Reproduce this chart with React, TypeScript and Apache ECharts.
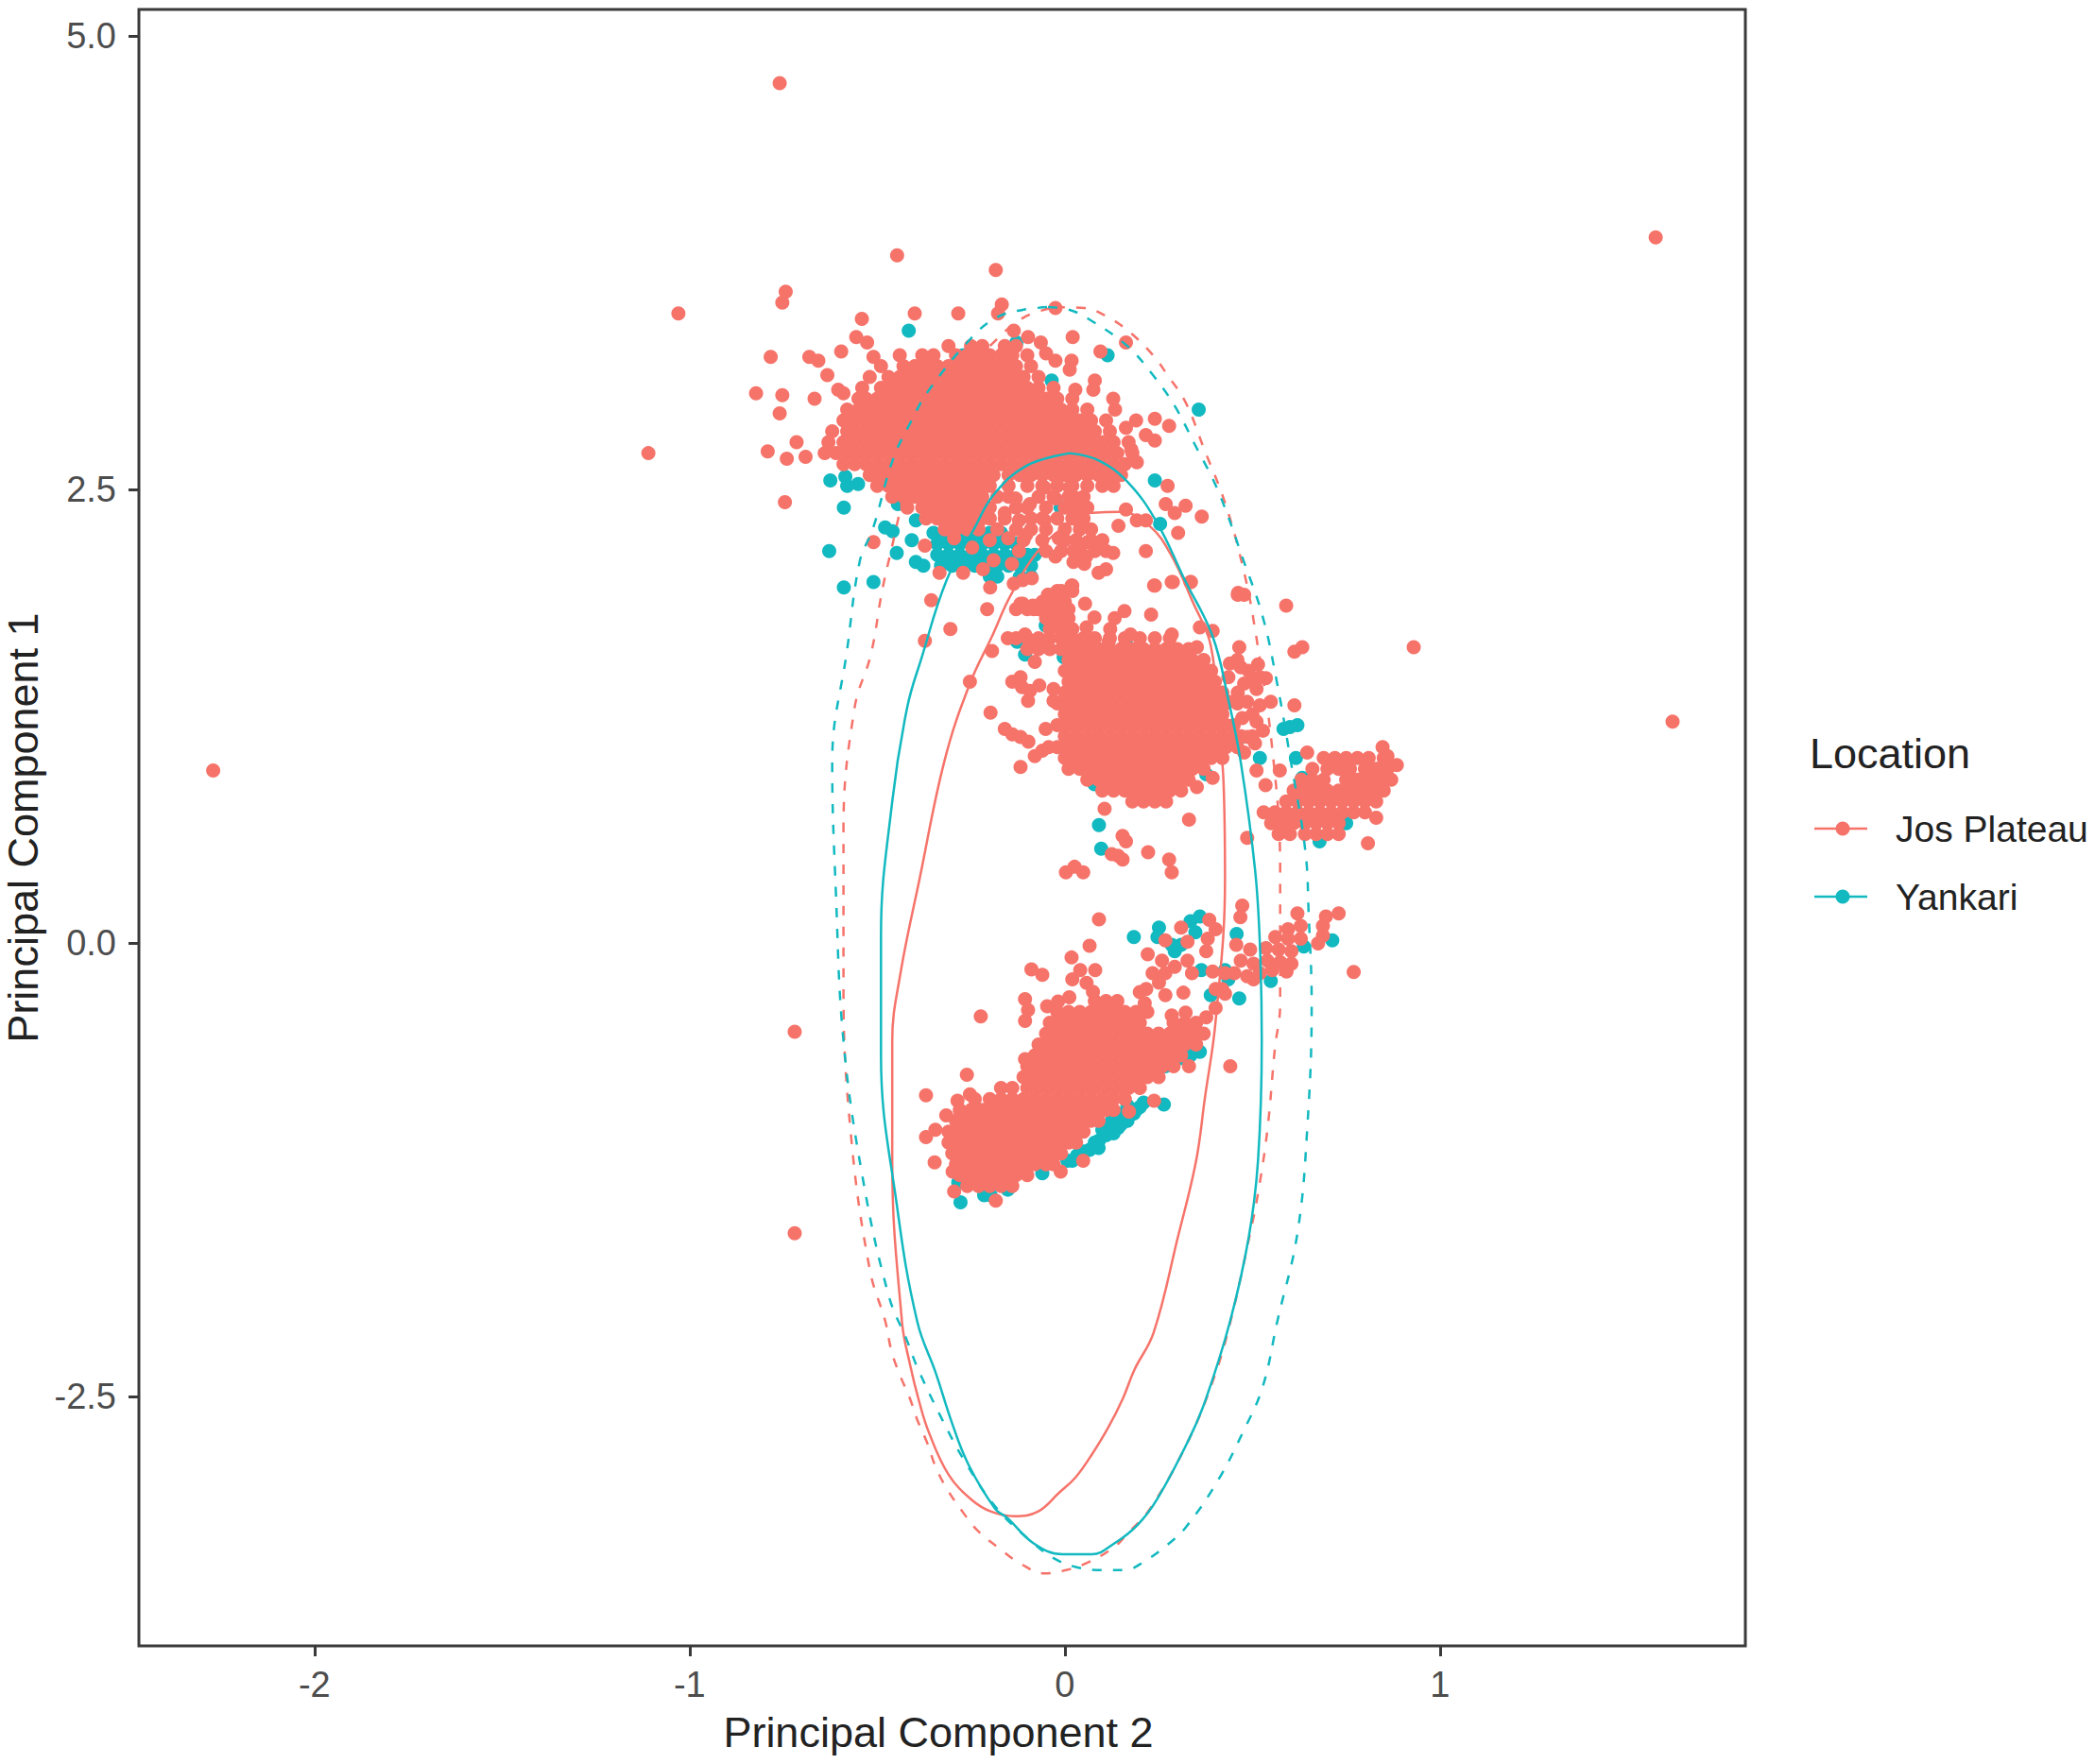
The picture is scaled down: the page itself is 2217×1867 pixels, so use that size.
import { useEffect, useRef } from 'react'
import * as echarts from 'echarts'

const CORAL = '#F6736A'
const TEAL = '#12B9C0'
const FONT = '"Liberation Sans", Arial, sans-serif'

const xTicks = [-2, -1, 0, 1]
const yTicks = [-2.5, 0, 2.5, 5]
const locations = ['Jos Plateau', 'Yankari']

// dense clusters, one row per PC1 level: [PC1, [PC2, ...]]
type Row = [number, number[]]

const josUpperRows: Row[] = [
  [3.29, [-0.31,-0.25,-0.22,-0.16,-0.13]],
  [3.24, [-0.44,-0.38,-0.35,-0.29,-0.26,-0.23,-0.20,-0.17,-0.14,-0.10]],
  [3.18, [-0.49,-0.43,-0.40,-0.37,-0.34,-0.31,-0.28,-0.25,-0.22,-0.19,-0.16,-0.13,-0.09]],
  [3.12, [-0.52,-0.47,-0.44,-0.41,-0.38,-0.35,-0.32,-0.29,-0.26,-0.23,-0.20,-0.17,-0.14,-0.11,-0.07]],
  [3.06, [-0.54,-0.49,-0.46,-0.43,-0.40,-0.37,-0.34,-0.31,-0.28,-0.25,-0.22,-0.19,-0.16,-0.13,-0.10,-0.07,-0.03]],
  [3.00, [-0.55,-0.53,-0.50,-0.47,-0.44,-0.41,-0.38,-0.35,-0.32,-0.29,-0.26,-0.23,-0.20,-0.17,-0.14,-0.11,-0.08,-0.05,-0.02,0.02]],
  [2.94, [-0.58,-0.55,-0.52,-0.49,-0.46,-0.43,-0.40,-0.37,-0.34,-0.31,-0.28,-0.25,-0.22,-0.19,-0.16,-0.13,-0.10,-0.07,-0.04,-0.01,0.02,0.06]],
  [2.88, [-0.59,-0.56,-0.53,-0.50,-0.47,-0.44,-0.41,-0.38,-0.35,-0.32,-0.29,-0.26,-0.23,-0.20,-0.17,-0.14,-0.11,-0.08,-0.05,-0.02,0.01,0.04,0.07,0.11]],
  [2.82, [-0.62,-0.58,-0.55,-0.52,-0.49,-0.46,-0.43,-0.40,-0.37,-0.34,-0.31,-0.28,-0.25,-0.22,-0.19,-0.16,-0.13,-0.10,-0.07,-0.04,-0.01,0.02,0.05,0.08,0.12]],
  [2.76, [-0.63,-0.59,-0.56,-0.53,-0.50,-0.47,-0.44,-0.41,-0.38,-0.35,-0.32,-0.29,-0.26,-0.23,-0.20,-0.17,-0.14,-0.11,-0.08,-0.05,-0.02,0.01,0.04,0.07,0.10,0.13,0.17]],
  [2.70, [-0.64,-0.61,-0.58,-0.55,-0.52,-0.49,-0.46,-0.43,-0.40,-0.37,-0.34,-0.31,-0.28,-0.25,-0.22,-0.19,-0.16,-0.13,-0.10,-0.07,-0.04,-0.01,0.02,0.05,0.08,0.11,0.14,0.18]],
  [2.64, [-0.59,-0.56,-0.53,-0.50,-0.47,-0.44,-0.41,-0.38,-0.35,-0.32,-0.29,-0.26,-0.23,-0.20,-0.17,-0.14,-0.11,-0.08,-0.05,-0.02,0.01,0.04,0.07,0.10,0.13,0.16]],
  [2.58, [-0.52,-0.49,-0.46,-0.43,-0.40,-0.37,-0.34,-0.31,-0.28,-0.25,-0.22,-0.19,-0.15,-0.12,-0.09,-0.06,-0.03,0.00,0.03,0.06,0.09,0.12,0.15]],
  [2.52, [-0.50,-0.47,-0.44,-0.41,-0.38,-0.35,-0.32,-0.29,-0.26,-0.23,-0.20,-0.15,-0.10,-0.06,-0.02,0.02,0.06,0.10,0.13]],
  [2.46, [-0.46,-0.43,-0.40,-0.37,-0.34,-0.31,-0.28,-0.25,-0.22,-0.18,-0.15,-0.07,-0.03,0.01,0.05]],
  [2.40, [-0.42,-0.38,-0.35,-0.32,-0.29,-0.26,-0.23,-0.20,-0.13,-0.10,-0.05,0.00,0.03,0.06]],
  [2.34, [-0.37,-0.34,-0.31,-0.28,-0.25,-0.22,-0.20,-0.16,-0.09,-0.06,-0.02,0.02,0.05]],
  [2.28, [-0.32,-0.29,-0.26,-0.23,-0.18,-0.13,-0.09,-0.05,0.00,0.04,0.07]],
  [2.22, [-0.20,-0.11,-0.06,0.00,0.03,0.07,0.10]],
  [2.16, [-0.05,-0.01,0.04,0.08,0.11]],
]

const josMiddleRows: Row[] = [
  [1.94, [-0.02,0.02]],
  [1.88, [-0.06,-0.03,0.00]],
  [1.84, [-0.13,-0.10,-0.07,-0.04,-0.01,0.01]],
  [1.79, [-0.05,-0.02,0.01]],
  [1.73, [-0.04,-0.01,0.02]],
  [1.68, [-0.13,-0.10,-0.07,-0.04,-0.01,0.02,0.05,0.08,0.12,0.16,0.20,0.24,0.28]],
  [1.62, [-0.10,-0.07,-0.04,-0.01,0.03,0.06,0.09,0.12,0.15,0.18,0.21,0.24,0.27,0.30,0.33]],
  [1.56, [0.01,0.04,0.07,0.10,0.13,0.16,0.19,0.22,0.25,0.28,0.31,0.34,0.37,0.46]],
  [1.50, [0.00,0.03,0.06,0.09,0.12,0.15,0.18,0.21,0.24,0.27,0.30,0.33,0.36,0.39,0.49]],
  [1.44, [0.01,0.04,0.07,0.10,0.13,0.16,0.19,0.22,0.25,0.28,0.31,0.34,0.37,0.40,0.50]],
  [1.38, [0.00,0.03,0.06,0.09,0.12,0.15,0.18,0.21,0.24,0.27,0.30,0.33,0.36,0.39,0.42]],
  [1.32, [-0.02,0.01,0.04,0.07,0.10,0.13,0.16,0.19,0.22,0.25,0.28,0.31,0.34,0.37,0.40,0.43,0.46]],
  [1.26, [0.00,0.03,0.06,0.09,0.12,0.15,0.18,0.21,0.24,0.27,0.30,0.33,0.36,0.39,0.42,0.50]],
  [1.20, [-0.02,0.01,0.04,0.07,0.10,0.13,0.16,0.19,0.22,0.25,0.28,0.31,0.34,0.37,0.40,0.43,0.45]],
  [1.14, [0.00,0.03,0.06,0.09,0.12,0.15,0.18,0.21,0.24,0.27,0.30,0.33,0.36,0.39,0.42,0.45,0.47,0.50]],
  [1.08, [-0.02,0.01,0.04,0.07,0.10,0.13,0.16,0.19,0.22,0.25,0.28,0.31,0.34,0.37,0.40,0.43,0.46]],
  [1.02, [0.00,0.03,0.06,0.09,0.12,0.15,0.18,0.21,0.24,0.27,0.30,0.33,0.36,0.39,0.42]],
  [0.96, [0.01,0.04,0.07,0.10,0.13,0.16,0.19,0.22,0.25,0.28,0.31,0.34,0.37]],
  [0.90, [0.06,0.09,0.12,0.15,0.18,0.21,0.24,0.27,0.30,0.33]],
  [0.84, [0.10,0.13,0.16,0.19,0.22,0.25,0.28,0.31]],
  [0.78, [0.18,0.21,0.24,0.27]],
]

const josRightRows: Row[] = [
  [1.02, [0.69,0.72,0.75,0.78,0.81,0.85]],
  [0.96, [0.66,0.70,0.73,0.76,0.80,0.83,0.86]],
  [0.90, [0.63,0.66,0.69,0.75,0.78,0.81,0.84,0.87]],
  [0.84, [0.61,0.64,0.67,0.70,0.73,0.76,0.79,0.82,0.85]],
  [0.78, [0.59,0.62,0.65,0.68,0.71,0.74,0.77,0.80,0.83]],
  [0.72, [0.53,0.56,0.59,0.62,0.65,0.68,0.71,0.74,0.77,0.80]],
  [0.66, [0.55,0.58,0.61,0.64,0.67,0.70,0.73]],
  [0.60, [0.57,0.60,0.64,0.67,0.70,0.73]],
]

const josLowerRows: Row[] = [
  [-0.32, [0.08,0.11,0.14]],
  [-0.38, [-0.02,0.01,0.04,0.07,0.10,0.13,0.16,0.19,0.22]],
  [-0.44, [-0.04,-0.01,0.02,0.05,0.08,0.11,0.14,0.17,0.20,0.29,0.32,0.35]],
  [-0.50, [-0.05,-0.02,0.01,0.04,0.07,0.10,0.13,0.16,0.19,0.22,0.25,0.28,0.31,0.34,0.37]],
  [-0.56, [-0.07,-0.04,-0.01,0.02,0.05,0.08,0.11,0.14,0.17,0.20,0.23,0.26,0.29,0.32,0.35]],
  [-0.62, [-0.08,-0.05,-0.02,0.01,0.04,0.07,0.10,0.13,0.16,0.19,0.22,0.25,0.28,0.31]],
  [-0.68, [-0.10,-0.07,-0.04,-0.01,0.02,0.05,0.08,0.11,0.14,0.17,0.20,0.23,0.26,0.29]],
  [-0.74, [-0.11,-0.08,-0.05,-0.02,0.01,0.04,0.07,0.10,0.13,0.16,0.19,0.22,0.25]],
  [-0.80, [-0.17,-0.14,-0.10,-0.07,-0.04,-0.01,0.02,0.05,0.08,0.11,0.14,0.17,0.20]],
  [-0.86, [-0.24,-0.20,-0.17,-0.14,-0.11,-0.08,-0.05,-0.02,0.01,0.04,0.07,0.10,0.13,0.16]],
  [-0.92, [-0.28,-0.25,-0.22,-0.19,-0.16,-0.13,-0.10,-0.07,-0.04,-0.01,0.02,0.05,0.08,0.11,0.13]],
  [-0.98, [-0.29,-0.26,-0.23,-0.20,-0.17,-0.14,-0.11,-0.08,-0.05,-0.02,0.01,0.04,0.07,0.09]],
  [-1.04, [-0.31,-0.28,-0.25,-0.22,-0.19,-0.16,-0.13,-0.10,-0.07,-0.04,-0.01,0.02,0.05]],
  [-1.10, [-0.31,-0.29,-0.26,-0.23,-0.20,-0.17,-0.14,-0.11,-0.08,-0.05,-0.02,0.01,0.03]],
  [-1.16, [-0.30,-0.28,-0.25,-0.22,-0.19,-0.16,-0.13,-0.10,-0.07,-0.04,-0.01]],
  [-1.22, [-0.29,-0.26,-0.23,-0.20,-0.17,-0.14,-0.11,-0.08,-0.05,-0.03]],
  [-1.28, [-0.28,-0.25,-0.22,-0.19,-0.16,-0.13,-0.10]],
  [-1.34, [-0.26,-0.23,-0.20,-0.17,-0.14]],
]

// single points round the clusters: [PC2, PC1]
const josOutliers = [
  [-0.76,4.74],[1.575,3.89],[0.93,1.63],[1.62,1.22],[-2.27,0.95],[-1.11,2.70],[-1.03,3.47],[-0.72,-0.49],[-0.72,-1.60],[0.77,-0.16],
]
const josUpperFringe = [
  [-0.447,3.79],[-0.184,3.71],[-0.744,3.59],[-0.753,3.53],[-0.168,3.52],[-0.178,3.47],[-0.025,3.50],[-0.40,3.47],[-0.284,3.47],[-0.541,3.44],
  [-0.556,3.34],[-0.527,3.31],[-0.51,3.23],[-0.596,3.26],[-0.784,3.23],[-0.681,3.23],[-0.657,3.21],[-0.633,3.13],[-0.604,3.05],[-0.59,3.03],
  [-0.823,3.03],[-0.753,3.02],[-0.667,3.00],[-0.76,2.92],[-0.792,2.71],[-0.715,2.76],[-0.741,2.67],[-0.691,2.68],[-0.746,2.43],[-0.136,3.375],
  [-0.098,3.34],[-0.064,3.31],[-0.05,3.25],[-0.025,3.21],[0.021,3.34],[0.095,3.26],[0.163,3.31],[0.018,3.21],[0.013,3.16],[0.08,3.10],
  [0.076,3.05],[0.028,3.05],[0.129,3.00],[0.134,2.94],[0.19,2.88],[0.163,2.84],[0.24,2.89],[0.278,2.85],[0.216,2.80],[0.24,2.77],
  [0.177,2.72],[0.192,2.65],[0.274,2.52],[0.269,2.42],[0.322,2.41],[0.365,2.35],[0.293,2.37],[0.302,2.26],[0.216,2.16],[0.24,1.97],
  [0.288,1.99],[0.336,1.99],[0.462,1.93],[0.59,1.86],[0.23,1.81],[-0.207,1.84],[-0.305,1.73],[-0.356,1.89],[-0.373,1.665],[-0.295,2.23],
  [-0.247,2.18],[-0.373,2.19],[-0.51,2.21],[-0.334,2.04],[-0.271,2.04],[-0.218,2.06],[-0.19,2.11],[-0.141,2.09],[-0.199,1.96],[-0.136,1.98],
  [-0.112,2.0],[-0.088,2.01],[-0.131,2.45],[-0.093,2.42],[-0.054,2.51],[-0.025,2.45],[0.013,2.51],[0.032,2.45],[0.037,2.40],[-0.16,2.37],
  [-0.122,2.33],[-0.054,2.33],[-0.103,2.25],[-0.151,2.23],[-0.122,2.16],[0.042,2.30],[-0.016,2.23],[0.061,2.21],[0.143,2.30],[0.163,2.39],
  [0.192,2.33],[0.216,2.33],[-0.025,2.13],[0.023,2.16],[0.057,2.13],[0.129,2.15],[0.09,2.04],[0.11,2.06],[0.052,2.09],[0.023,2.10],
  [-0.016,1.93],[0.018,1.97],[-0.045,1.92],[-0.112,1.87],[-0.083,1.84],
]
const josMiddleFringe = [
  [0.238,1.97],[0.285,1.99],[0.335,1.99],[0.461,1.92],[0.478,1.92],[-0.194,1.61],[-0.253,1.44],[-0.198,1.27],[-0.118,0.97],[-0.16,1.18],
  [-0.14,1.15],[-0.118,1.135],[-0.097,1.11],[-0.051,1.18],[-0.08,1.03],[-0.06,1.06],[-0.043,1.08],[-0.14,1.44],[-0.118,1.465],[-0.114,1.41],
  [-0.093,1.39],[-0.068,1.42],[-0.098,1.335],[-0.03,1.40],[-0.03,1.335],[-0.152,1.68],[-0.106,1.70],[-0.08,1.665],[-0.06,1.64],[-0.08,1.55],
  [-0.118,1.87],[-0.085,1.86],[-0.043,1.92],[-0.009,1.94],[0.02,1.97],[-0.035,1.85],[-0.018,1.795],[-0.009,1.74],[0.003,1.69],[-0.035,1.76],
  [0.012,1.62],[0.054,1.87],[0.079,1.795],[0.058,1.74],[0.075,1.67],[0.041,1.66],[0.159,1.83],[0.133,1.79],[0.121,1.73],[0.117,1.66],
  [0.175,1.70],[0.285,1.70],[0.352,1.63],[0.36,1.74],[0.394,1.72],[0.465,1.63],[0.44,1.54],[0.469,1.52],[0.515,1.535],[0.52,1.465],
  [0.536,1.46],[0.436,1.465],[0.478,1.43],[0.461,1.38],[0.511,1.40],[0.486,1.33],[0.52,1.31],[0.549,1.33],[0.473,1.24],[0.511,1.22],
  [0.528,1.17],[0.486,1.135],[0.507,1.10],[0.478,1.05],[0.436,1.33],[0.612,1.605],[0.633,1.63],[0.612,1.31],[0.646,1.05],[0.511,0.95],
  [0.535,0.87],[0.573,0.95],[0.331,0.68],[0.106,0.74],[0.154,0.59],[0.163,0.56],[0.125,0.49],[0.142,0.48],[0.154,0.46],[0.222,0.50],
  [0.278,0.46],[0.285,0.39],[0.003,0.39],[0.026,0.42],[0.049,0.39],[0.486,0.58],[0.808,0.55],[0.394,0.91],[0.352,0.86],[0.847,1.08],
  [0.885,0.98],[0.86,1.03],[0.83,0.69],
]
const josLowerFringe = [
  [0.091,0.13],[0.066,-0.016],[0.018,-0.08],[0.041,-0.15],[0.081,-0.15],[0.02,-0.20],[0.058,-0.22],[0.075,-0.27],[-0.089,-0.146],[-0.06,-0.176],
  [-0.106,-0.31],[-0.098,-0.37],[-0.106,-0.43],[-0.224,-0.405],[-0.047,-0.349],[-0.018,-0.323],[0.012,-0.30],[-0.06,-0.58],[-0.106,-0.64],[-0.093,-0.705],
  [-0.261,-0.726],[-0.37,-0.84],[-0.286,-0.87],[-0.253,-0.835],[-0.316,-0.95],[-0.345,-1.03],[-0.37,-1.07],[-0.347,-1.21],[-0.299,-1.26],[-0.295,-1.37],
  [0.238,-0.87],[0.171,-0.93],[0.049,-1.2],[-0.011,-1.26],[-0.184,-1.42],[0.331,-0.68],[0.441,-0.68],[0.473,0.206],[0.468,0.142],[0.62,0.163],
  [0.73,0.163],[0.696,0.146],[0.688,0.094],[0.688,0.04],[0.675,-0.002],[0.31,0.085],[0.268,0.015],[0.327,0.007],[0.385,0.128],[0.402,0.076],
  [0.381,0.024],[0.377,-0.045],[0.221,-0.063],[0.259,-0.097],[0.293,-0.132],[0.327,-0.097],[0.339,-0.167],[0.234,-0.167],[0.268,-0.167],[0.251,-0.219],
  [0.217,-0.254],[0.268,-0.288],[0.2,-0.271],[0.213,-0.332],[0.316,-0.274],[0.285,-0.40],[0.322,-0.384],[0.402,-0.358],[0.377,-0.41],[0.419,-0.254],
  [0.402,-0.254],[0.394,-0.158],[0.427,-0.167],[0.457,-0.01],[0.494,-0.037],[0.469,-0.097],[0.452,-0.167],[0.486,-0.184],[0.503,-0.115],[0.595,0.076],
  [0.629,0.094],[0.561,0.033],[0.595,0.024],[0.629,0.024],[0.536,-0.028],[0.57,-0.037],[0.604,-0.045],[0.54,-0.097],[0.574,-0.106],[0.604,-0.115],
  [0.52,-0.167],[0.553,-0.15],[0.591,-0.158],[0.503,-0.2],[0.427,-0.28],
]

const yankariPoints = [
  [-0.416,3.375],[0.114,3.24],[-0.035,3.10],[-0.129,3.31],[0.357,2.94],[-0.471,2.92],[-0.271,3.24],[0.24,2.55],[0.254,2.31],[-0.011,2.40],
  [-0.625,2.55],[-0.585,2.57],[-0.551,2.53],[-0.58,2.52],[-0.589,2.40],[-0.628,2.16],[-0.589,1.96],[-0.51,1.99],[-0.448,2.15],[-0.397,2.10],
  [-0.377,2.08],[-0.479,2.29],[-0.459,2.27],[-0.408,2.22],[-0.397,2.33],[-0.44,2.46],[-0.43,2.52],[-0.445,2.42],
  [-0.32,2.32],[-0.29,2.32],[-0.26,2.32],[-0.35,2.26],[-0.32,2.26],[-0.29,2.26],[-0.26,2.26],[-0.23,2.26],[-0.20,2.26],[-0.17,2.26],
  [-0.34,2.20],[-0.31,2.20],[-0.28,2.20],[-0.25,2.20],[-0.22,2.20],[-0.19,2.20],[-0.16,2.20],[-0.13,2.20],
  [-0.34,2.14],[-0.31,2.14],[-0.28,2.14],[-0.25,2.14],[-0.22,2.14],[-0.19,2.14],[-0.16,2.14],[-0.13,2.14],[-0.10,2.14],[-0.08,2.14],
  [-0.33,2.08],[-0.30,2.08],[-0.27,2.08],[-0.24,2.08],[-0.21,2.08],[-0.18,2.08],[-0.15,2.08],[-0.12,2.08],[-0.09,2.08],
  [-0.20,2.02],[-0.18,2.02],[-0.12,2.02],[-0.09,2.02],
  [0.163,1.65],[-0.003,1.575],[-0.106,1.59],[-0.127,1.66],[0.054,1.65],[-0.051,1.75],[0.469,1.135],[0.52,1.02],[0.583,1.18],[0.6,1.19],
  [0.62,1.20],[0.616,1.02],[0.633,0.91],[0.091,0.65],[0.097,0.52],[0.377,0.93],[0.079,0.875],[0.251,0.80],[0.839,0.96],[0.75,0.66],[0.679,0.56],
  [0.264,-0.89],[0.36,-0.60],[0.335,-0.62],[0.314,-0.635],[0.268,-0.68],[0.2,-0.905],[0.167,-0.896],[0.184,-0.94],[0.167,-0.98],[0.142,-1.02],
  [0.117,-1.02],[0.091,-1.09],[0.066,-1.14],[0.033,-1.17],[0.007,-1.2],[0.125,-0.98],[0.10,-1.03],[-0.06,-1.27],[-0.152,-1.36],[-0.207,-1.36],
  [-0.215,-1.39],[-0.198,-1.39],[-0.284,-1.32],[-0.278,-1.43],[0.15,-1.0],[0.13,-1.05],[0.08,-1.1],[0.11,-1.06],[0.05,-1.15],[0.02,-1.2],
  [0.09,-1.13],[0.14,-1.0],[0.19,-0.92],[0.21,-0.88],[0.155,-0.94],
  [0.184,0.033],[0.251,0.085],[0.247,0.033],[0.36,0.146],[0.335,0.12],[0.348,0.059],[0.293,-0.045],[0.31,-0.01],[0.285,-0.01],[0.458,0.05],
  [0.713,0.015],[0.637,-0.02],[0.549,-0.21],[0.465,-0.306],[0.389,-0.288],[0.427,-0.15],[0.436,-0.2],[0.364,-0.15],
]

// 95% ellipses
const yankariSolid = [
  [0.013,2.70],[0.09,2.66],[0.168,2.54],[0.245,2.32],[0.32,2.0],[0.394,1.69],[0.436,1.34],[0.469,0.997],[0.507,0.406],[0.52,-0.01],
  [0.525,-0.54],[0.515,-1.2],[0.49,-1.625],[0.44,-2.09],[0.375,-2.52],[0.33,-2.74],[0.245,-3.07],[0.193,-3.21],[0.132,-3.31],[0.072,-3.37],
  [-0.006,-3.37],[-0.083,-3.31],[-0.153,-3.17],[-0.186,-3.118],[-0.257,-2.875],[-0.30,-2.65],[-0.344,-2.37],[-0.393,-2.09],[-0.446,-1.47],[-0.49,-0.62],
  [-0.49,0.04],[-0.46,0.78],[-0.42,1.3],[-0.382,1.57],[-0.315,2.0],[-0.24,2.29],[-0.19,2.47],[-0.103,2.63],[0.013,2.70],
]
const josSolid = [
  [0.061,2.37],[0.148,2.377],[0.225,2.30],[0.283,2.14],[0.341,1.88],[0.389,1.64],[0.41,1.2],[0.423,0.89],[0.427,0.354],[0.402,-0.43],
  [0.373,-0.86],[0.35,-1.2],[0.301,-1.625],[0.237,-2.146],[0.185,-2.355],[0.155,-2.51],[0.116,-2.67],[0.072,-2.82],[0.029,-2.945],[-0.015,-3.03],
  [-0.072,-3.135],[-0.134,-3.16],[-0.196,-3.135],[-0.248,-3.07],[-0.31,-2.93],[-0.362,-2.70],[-0.388,-2.53],[-0.413,-2.32],[-0.434,-2.09],[-0.46,-1.2],
  [-0.46,-0.54],[-0.438,-0.167],[-0.387,0.354],[-0.32,1.01],[-0.253,1.43],[-0.194,1.69],[-0.144,1.917],[-0.064,2.18],[0.023,2.33],[0.061,2.37],
]
const yankariDashed = [
  [-0.045,3.505],[0.013,3.49],[0.071,3.43],[0.167,3.29],[0.235,3.13],[0.293,2.96],[0.346,2.75],[0.409,2.49],[0.476,2.11],[0.528,1.795],
  [0.566,1.43],[0.6,1.03],[0.641,0.51],[0.65,0.16],[0.658,-0.34],[0.646,-1.03],[0.62,-1.6],[0.566,-2.09],[0.527,-2.45],[0.474,-2.70],
  [0.409,-2.96],[0.323,-3.22],[0.272,-3.32],[0.215,-3.405],[0.159,-3.457],[0.098,-3.457],[0.029,-3.44],[-0.031,-3.39],[-0.083,-3.31],[-0.18,-3.12],
  [-0.263,-2.87],[-0.331,-2.61],[-0.393,-2.34],[-0.419,-2.2],[-0.47,-1.94],[-0.54,-1.28],[-0.59,-0.54],[-0.61,0.27],[-0.62,1.00],[-0.58,1.62],
  [-0.546,2.11],[-0.512,2.28],[-0.459,2.66],[-0.411,2.87],[-0.363,3.045],[-0.247,3.34],[-0.18,3.45],[-0.112,3.49],[-0.045,3.505],
]
const josDashed = [
  [-0.025,3.505],[0.052,3.50],[0.119,3.445],[0.177,3.36],[0.235,3.24],[0.274,3.13],[0.322,2.98],[0.37,2.73],[0.428,2.42],[0.476,2.06],
  [0.507,1.73],[0.553,1.07],[0.574,0.41],[0.574,-0.34],[0.56,-0.58],[0.54,-1.03],[0.515,-1.38],[0.494,-1.6],[0.44,-2.1],[0.397,-2.4],
  [0.33,-2.74],[0.227,-3.12],[0.165,-3.26],[0.132,-3.33],[0.063,-3.414],[0.003,-3.457],[-0.054,-3.475],[-0.119,-3.42],[-0.176,-3.335],[-0.232,-3.24],
  [-0.271,-3.14],[-0.314,-3.01],[-0.344,-2.89],[-0.366,-2.76],[-0.393,-2.63],[-0.413,-2.51],[-0.44,-2.38],[-0.462,-2.25],[-0.478,-2.09],[-0.52,-1.80],
  [-0.57,-1.06],[-0.59,-0.25],[-0.59,0.63],[-0.56,1.3],[-0.517,1.59],[-0.488,1.93],[-0.469,2.11],[-0.4,2.7],[-0.36,2.88],[-0.28,3.12],
  [-0.2,3.29],[-0.112,3.445],[-0.025,3.505],
]

const fromRows = (rows: Row[]) => rows.flatMap(([y, xs]) => xs.map((x) => [x, y]))

const josPoints = [
  ...fromRows(josUpperRows),
  ...fromRows(josMiddleRows),
  ...fromRows(josRightRows),
  ...fromRows(josLowerRows),
  ...josOutliers,
  ...josUpperFringe,
  ...josMiddleFringe,
  ...josLowerFringe,
]

const ellipse = (data: number[][], color: string, dashed: boolean) => ({
  type: 'line',
  data,
  smooth: 0.4,
  showSymbol: false,
  silent: true,
  z: 5,
  lineStyle: { color, width: 2.5, type: dashed ? [10, 12] : 'solid' },
})

const legendItem = (label: string, color: string, y: number) => [
  { type: 'line', shape: { x1: 1920, y1: y, x2: 1976, y2: y }, style: { stroke: color, lineWidth: 2.5 } },
  { type: 'circle', shape: { cx: 1950, cy: y, r: 7.5 }, style: { fill: color } },
  {
    type: 'text',
    x: 2006,
    y,
    style: { text: label, font: `39px ${FONT}`, fill: '#222', textVerticalAlign: 'middle' },
  },
]

export default function App() {
  const chartRef = useRef<HTMLDivElement>(null)

  useEffect(() => {
    if (!chartRef.current) return
    const chart = echarts.init(chartRef.current, undefined, { renderer: 'svg' })

    chart.setOption({
      animation: false,
      backgroundColor: '#fff',
      grid: {
        show: true,
        left: 147,
        right: 370,
        top: 10,
        bottom: 125,
        outerBoundsMode: 'none',
        borderColor: '#3A3A3A',
        borderWidth: 3,
      },
      xAxis: {
        type: 'value',
        min: -2.468,
        max: 1.814,
        name: 'Principal Component 2',
        nameLocation: 'middle',
        nameGap: 69,
        nameTextStyle: { fontFamily: FONT, fontSize: 45, color: '#222', padding: [0, 8, 0, 0] },
        splitLine: { show: false },
        axisLine: { show: false, onZero: false },
        axisTick: { show: true, length: 11, customValues: xTicks, lineStyle: { color: '#3A3A3A', width: 3 } },
        axisLabel: {
          customValues: xTicks,
          fontFamily: FONT,
          fontSize: 38,
          color: '#4D4D4D',
          margin: 22,
        },
      },
      yAxis: {
        type: 'value',
        min: -3.875,
        max: 5.146,
        name: 'Principal Component 1',
        nameLocation: 'middle',
        nameGap: 96,
        nameTextStyle: { fontFamily: FONT, fontSize: 45, color: '#222' },
        splitLine: { show: false },
        axisLine: { show: false, onZero: false },
        axisTick: { show: true, length: 11, customValues: yTicks, lineStyle: { color: '#3A3A3A', width: 3 } },
        axisLabel: {
          customValues: yTicks,
          fontFamily: FONT,
          fontSize: 38,
          color: '#4D4D4D',
          margin: 24,
          formatter: (v: number) => v.toFixed(1),
        },
      },
      graphic: [
        {
          type: 'text',
          x: 1915,
          y: 797,
          style: { text: 'Location', font: `45px ${FONT}`, fill: '#222', textVerticalAlign: 'middle' },
        },
        ...legendItem(locations[0], CORAL, 877),
        ...legendItem(locations[1], TEAL, 949),
      ],
      series: [
        { name: locations[1], type: 'scatter', data: yankariPoints, symbolSize: 15, z: 2, itemStyle: { color: TEAL, opacity: 1 } },
        { name: locations[0], type: 'scatter', data: josPoints, symbolSize: 15, z: 3, itemStyle: { color: CORAL, opacity: 1 } },
        ellipse(josSolid, CORAL, false),
        ellipse(josDashed, CORAL, true),
        ellipse(yankariSolid, TEAL, false),
        ellipse(yankariDashed, TEAL, true),
      ],
    })

    return () => chart.dispose()
  }, [])

  return <div ref={chartRef} style={{ position: 'absolute', left: 0, top: 0, width: 2217, height: 1867 }} />
}
